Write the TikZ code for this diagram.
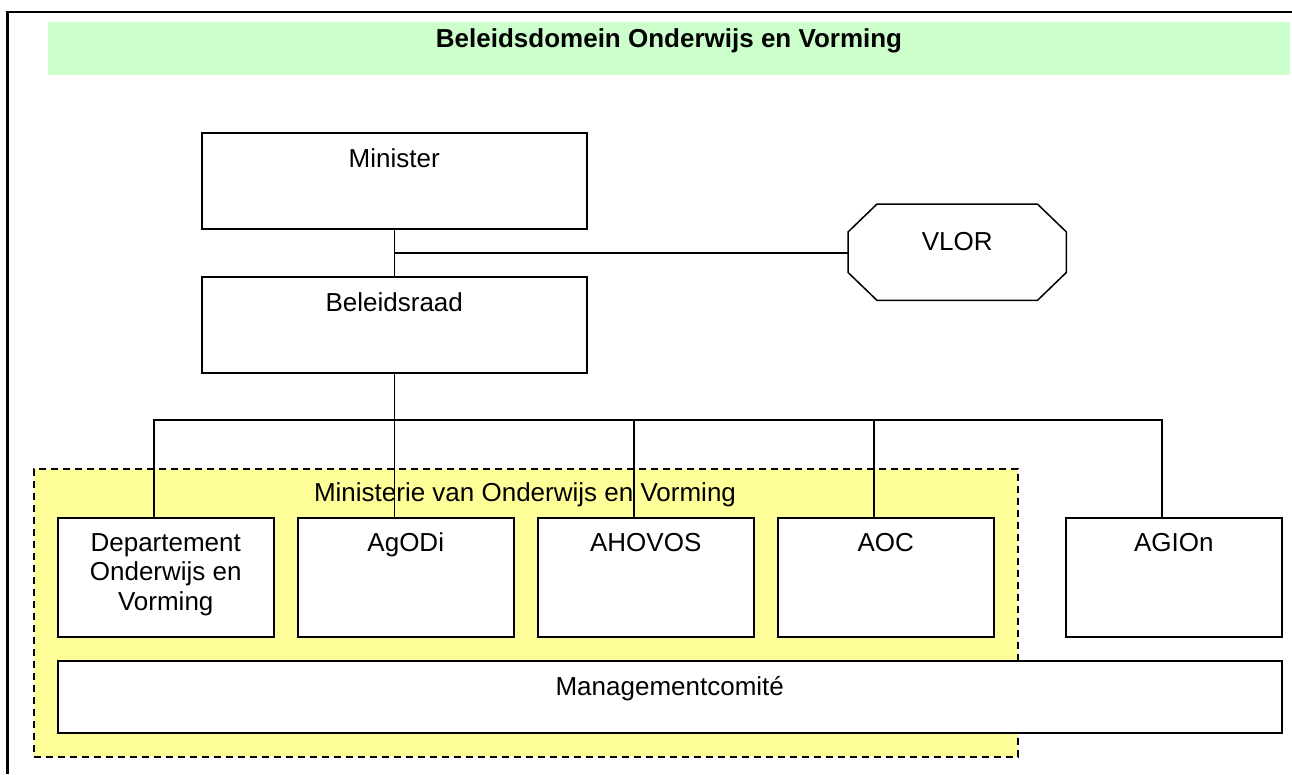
\documentclass[tikz,border=0pt]{standalone}
\usepackage{fontspec}
\setmainfont{Liberation Sans}
\usetikzlibrary{calc}
\definecolor{bandgreen}{HTML}{CCFFCC}
\definecolor{minyellow}{HTML}{FFFF99}
\tikzset{
  box/.style={draw=black, line width=1.5pt, fill=white, minimum width=216pt, minimum height=119pt, inner sep=0pt, anchor=north west},
  lbl/.style={font=\fontsize{26}{29.5}\selectfont, anchor=base, inner sep=0pt, align=center},
  conn/.style={draw=black, line width=1.5pt},
}
\begin{document}
\begin{tikzpicture}[x=1pt,y=-1pt]
\useasboundingbox (0,0) rectangle (1292,774);
% title band
\node[fill=bandgreen, anchor=north west, minimum width=1242pt, minimum height=53pt, inner sep=0pt] (band) at (48,22) {};
\node[lbl, font=\fontsize{26}{29.5}\selectfont\bfseries] (title) at (669,47) {Beleidsdomein Onderwijs en Vorming};
% frame
\draw[line width=2.5pt] (7.5,774) -- (7.5,12) -- (1292,12);
% ministerie area
\node[draw=black, dash pattern=on 7pt off 5pt, line width=1.5pt, fill=minyellow, anchor=north west, minimum width=984pt, minimum height=288pt, inner sep=0pt] (mvo) at (33,468) {};
\node[lbl] (tmvo) at (525,501.7) {Ministerie van Onderwijs en Vorming};
% top boxes
\node[box, minimum width=385pt, minimum height=96pt] (min) at (201,132) {};
\node[box, minimum width=385pt, minimum height=96pt] (bel) at (201,276) {};
\node[anchor=north west, minimum width=218pt, minimum height=96pt, inner sep=0pt] (vlor) at (848,204) {};
\draw[conn, fill=white] ($(vlor.north west)+(29,0)$) -- ($(vlor.north east)+(-29,0)$) -- ($(vlor.north east)+(0,28)$) -- ($(vlor.south east)+(0,-28)$) -- ($(vlor.south east)+(-29,0)$) -- ($(vlor.south west)+(29,0)$) -- ($(vlor.south west)+(0,-28)$) -- ($(vlor.north west)+(0,28)$) -- cycle;
% bottom boxes
\node[box] (dept) at (57,517) {};
\node[box] (agodi) at (297,517) {};
\node[box] (ahovos) at (537,517) {};
\node[box] (aoc) at (777,517) {};
\node[box] (agion) at (1065,517) {};
\node[box, minimum width=1224pt, minimum height=72pt] (mgmt) at (57,660) {};
% labels
\node[lbl] (tmin) at ($(min.north)+(0,35)$) {Minister};
\node[lbl] (tbel) at ($(bel.north)+(0,35.5)$) {Beleidsraad};
\node[lbl] (tvlor) at ($(vlor.north)+(0,46)$) {VLOR};
\node[lbl, anchor=north] (tdept) at ($(dept.north)+(0,16)$) {Departement\\Onderwijs en\\Vorming};
\node[lbl] (tagodi) at ($(agodi.north)+(0,34)$) {AgODi};
\node[lbl] (tahovos) at ($(ahovos.north)+(0,34)$) {AHOVOS};
\node[lbl] (taoc) at ($(aoc.north)+(0,34)$) {AOC};
\node[lbl] (tagion) at ($(agion.north)+(0,34)$) {AGIOn};
\node[lbl] (tmgmt) at ($(mgmt.north)+(0,35)$) {Managementcomit\'e};
% connectors
\coordinate (jv) at ($(min.south)!0.5!(bel.north)$);
\coordinate (bus) at (393,420);
\draw[conn] (min.south) -- (bel.north);
\draw[conn] (jv) -- (jv -| vlor.west);
\draw[conn] (bel.south) -- (bel.south |- agodi.north);
\draw[conn] ($(dept.north)+(-12,0)$) |- (bus) -| ($(agion.north)+(-12,0)$);
\draw[conn] (bus -| ahovos.north) ++(-12,0) -- ($(ahovos.north)+(-12,0)$);
\draw[conn] (bus -| aoc.north) ++(-12,0) -- ($(aoc.north)+(-12,0)$);
\end{tikzpicture}
\end{document}
